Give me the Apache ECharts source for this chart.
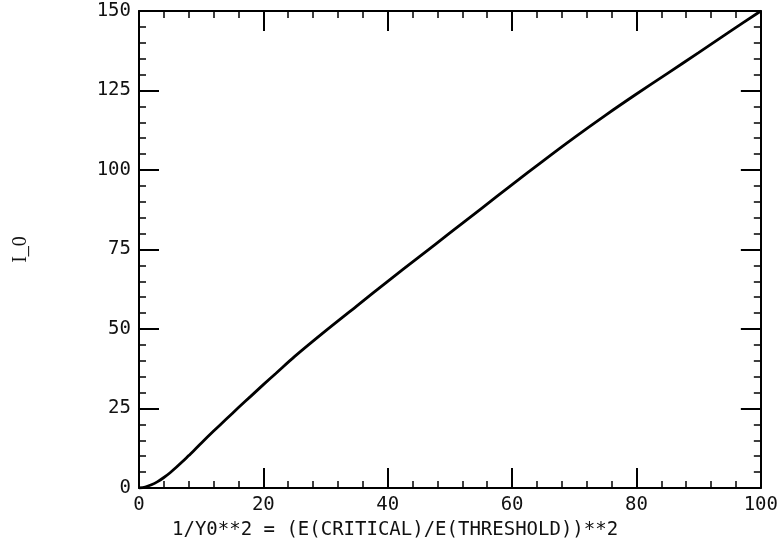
<!DOCTYPE html>
<html>
<head>
<meta charset="utf-8">
<script src="https://cdn.jsdelivr.net/npm/echarts@6/dist/echarts.min.js"></script>
<style>
  html, body { margin: 0; padding: 0; background: #fff; }
  #chart { width: 781px; height: 545px; }
</style>
</head>
<body>
<div id="chart"></div>
<script>
// values
const xValues = [0, 1, 2, 3, 4, 5, 6, 7, 8, 9, 10, 12, 14, 16, 18, 20, 22, 25, 30, 35, 40, 45, 50, 55, 60, 65, 70, 75, 80, 85, 90, 95, 100];
const i0Values = [0, 0.3, 1.0, 2.0, 3.3, 4.8, 6.5, 8.3, 10.2, 12.1, 14.1, 17.9, 21.6, 25.3, 28.9, 32.5, 36.0, 41.3, 49.4, 57.2, 65, 72.6, 80.2, 87.8, 95.4, 102.9, 110.2, 117.2, 123.9, 130.4, 136.9, 143.5, 150];
const xTicks = [0, 20, 40, 60, 80, 100];
const yTicks = [0, 25, 50, 75, 100, 125, 150];

const chart = echarts.init(document.getElementById("chart"));

const labelFont = { color: "#111", fontSize: 19, fontFamily: "DejaVu Sans Mono" };

// shared look for the four framed axes
const tickSide = (showLabels, extra) => Object.assign({
  axisLine: { show: true, onZero: false, lineStyle: { color: "#000", width: 2 } },
  axisTick: { show: true, inside: true, length: 20, lineStyle: { color: "#000", width: 2 } },
  minorTick: { show: true, splitNumber: 5, length: 7, lineStyle: { color: "#000", width: 1.5 } },
  splitLine: { show: false },
  axisLabel: Object.assign({ show: showLabels, margin: 8 }, labelFont),
}, extra);

const option = {
  backgroundColor: "#fff",
  animation: false,
  title: {
    text: "1/Y0**2 = (E(CRITICAL)/E(THRESHOLD))**2",
    left: 167,
    top: 516,
    textStyle: { color: "#111", fontSize: 19, fontWeight: "normal", fontFamily: "DejaVu Sans Mono" },
  },
  grid: { left: 139, right: 19, top: 11, bottom: 57 },
  xAxis: [
    tickSide(true, { type: "value", position: "bottom", min: xTicks[0], max: xTicks[xTicks.length - 1], interval: 20 }),
    tickSide(false, { type: "value", position: "top", min: xTicks[0], max: xTicks[xTicks.length - 1], interval: 20 }),
  ],
  yAxis: [
    tickSide(true, {
      type: "value", position: "left", min: yTicks[0], max: yTicks[yTicks.length - 1], interval: 25,
      name: "I_0", nameLocation: "middle", nameGap: 108, nameRotate: 90,
      nameTextStyle: { color: "#111", fontSize: 20, fontFamily: "Liberation Serif" },
    }),
    tickSide(false, { type: "value", position: "right", min: yTicks[0], max: yTicks[yTicks.length - 1], interval: 25 }),
  ],
  series: [
    {
      type: "line",
      data: xValues.map((x, i) => [x, i0Values[i]]),
      showSymbol: false,
      smooth: 0.3,
      lineStyle: { color: "#000", width: 2.8 },
    },
  ],
};

chart.setOption(option);
</script>
</body>
</html>
